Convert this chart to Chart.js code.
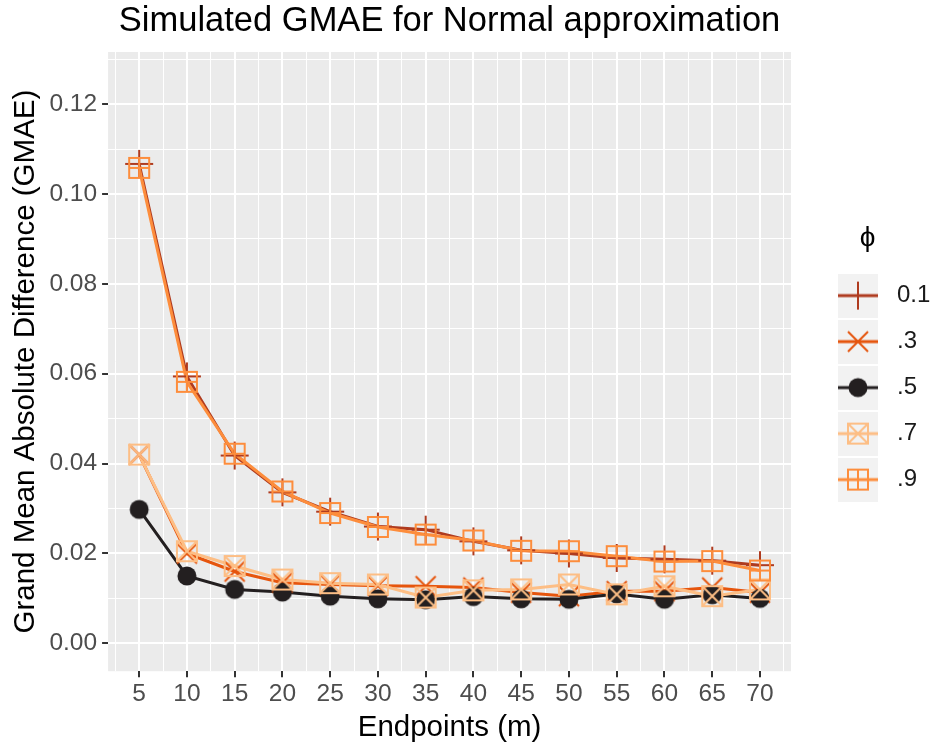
<!DOCTYPE html>
<html>
<head>
<meta charset="utf-8">
<script src="https://cdn.jsdelivr.net/npm/chart.js@4.4.1/dist/chart.umd.min.js"></script>
<style>
  html, body { margin: 0; padding: 0; background: #fff; }
</style>
</head>
<body>
<canvas id="chart" width="930" height="746"></canvas>
<script>
// data
const endpoints = [5, 10, 15, 20, 25, 30, 35, 40, 45, 50, 55, 60, 65, 70];
const phiLabels = ["0.1", ".3", ".5", ".7", ".9"];
const gmae01 = [0.1067, 0.0594, 0.0418, 0.0336, 0.0293, 0.0260, 0.0253, 0.0227, 0.0207, 0.0200, 0.0190, 0.0187, 0.0184, 0.0174];
const gmae03 = [0.0420, 0.0200, 0.0160, 0.0135, 0.0131, 0.0128, 0.0127, 0.0124, 0.0113, 0.0105, 0.0116, 0.0116, 0.0124, 0.0113];
const gmae05 = [0.0298, 0.0150, 0.0120, 0.0114, 0.0105, 0.0099, 0.0097, 0.0104, 0.0099, 0.0098, 0.0110, 0.0098, 0.0108, 0.0100];
const gmae07 = [0.0420, 0.0205, 0.0172, 0.0142, 0.0134, 0.0131, 0.0102, 0.0118, 0.0120, 0.0131, 0.0109, 0.0127, 0.0105, 0.0120];
const gmae09 = [0.1058, 0.0582, 0.0422, 0.0338, 0.0290, 0.0259, 0.0242, 0.0229, 0.0206, 0.0205, 0.0194, 0.0182, 0.0183, 0.0162];
const xBreaks = [2.5, 5, 7.5, 10, 12.5, 15, 17.5, 20, 22.5, 25, 27.5, 30, 32.5, 35, 37.5, 40, 42.5, 45, 47.5, 50, 52.5, 55, 57.5, 60, 62.5, 65, 67.5, 70, 72.5];
const yBreaks = [0, 0.01, 0.02, 0.03, 0.04, 0.05, 0.06, 0.07, 0.08, 0.09, 0.10, 0.11, 0.12, 0.13];

const series = [gmae01, gmae03, gmae05, gmae07, gmae09];
const colors = ["#AF3B1F", "#E6550D", "#231F20", "#FDBE85", "#FD8D3C"];
const shapes = ["plus", "cross", "circle", "squareX", "squarePlus"];

function drawShape(ctx, shape, color, cx, cy) {
  ctx.strokeStyle = color;
  ctx.fillStyle = color;
  ctx.lineWidth = 2;
  ctx.beginPath();
  if (shape === "plus") {
    ctx.moveTo(cx - 14, cy); ctx.lineTo(cx + 14, cy);
    ctx.moveTo(cx, cy - 14); ctx.lineTo(cx, cy + 14);
    ctx.stroke();
  } else if (shape === "cross") {
    ctx.moveTo(cx - 10, cy - 10); ctx.lineTo(cx + 10, cy + 10);
    ctx.moveTo(cx + 10, cy - 10); ctx.lineTo(cx - 10, cy + 10);
    ctx.stroke();
  } else if (shape === "circle") {
    ctx.arc(cx, cy, 9.5, 0, Math.PI * 2);
    ctx.fill();
  } else {
    ctx.rect(cx - 10, cy - 10, 20, 20);
    if (shape === "squareX") {
      ctx.moveTo(cx - 10, cy - 10); ctx.lineTo(cx + 10, cy + 10);
      ctx.moveTo(cx + 10, cy - 10); ctx.lineTo(cx - 10, cy + 10);
    } else {
      ctx.moveTo(cx - 10, cy); ctx.lineTo(cx + 10, cy);
      ctx.moveTo(cx, cy - 10); ctx.lineTo(cx, cy + 10);
    }
    ctx.stroke();
  }
}

function markerImage(shape, color) {
  const c = document.createElement("canvas");
  c.width = 32; c.height = 32;
  drawShape(c.getContext("2d"), shape, color, 16, 16);
  return c;
}

// legend key: transparent margin left (25) and right (7) around a 40x44 grey key
function legendKey(shape, color) {
  const c = document.createElement("canvas");
  c.width = 72; c.height = 44;
  const ctx = c.getContext("2d");
  ctx.fillStyle = "#F2F2F2";
  ctx.fillRect(25, 0, 40, 44);
  ctx.strokeStyle = color;
  ctx.lineWidth = 3;
  ctx.beginPath();
  ctx.moveTo(25, 22); ctx.lineTo(65, 22);
  ctx.stroke();
  drawShape(ctx, shape, color, 45, 22);
  return c;
}

// lines first, points on top (like geom_line + geom_point)
const lineSets = series.map((vals, i) => ({
  label: phiLabels[i],
  data: endpoints.map((x, j) => ({ x: x, y: vals[j] })),
  borderColor: colors[i],
  borderWidth: 3,
  pointRadius: 0,
  tension: 0,
  order: 9 - i
}));
const pointSets = series.map((vals, i) => ({
  label: phiLabels[i] + " pts",
  data: endpoints.map((x, j) => ({ x: x, y: vals[j] })),
  showLine: false,
  pointStyle: markerImage(shapes[i], colors[i]),
  pointRadius: 10,
  order: 4 - i
}));

const panelBg = {
  id: "panelBg",
  beforeDraw(chart) {
    const { ctx, chartArea: a } = chart;
    ctx.save();
    ctx.fillStyle = "#EBEBEB";
    ctx.fillRect(a.left, a.top, a.right - a.left, a.bottom - a.top);
    ctx.restore();
  }
};

Chart.defaults.font.family = "'Liberation Sans', Arial, sans-serif";

const isMajorX = v => v % 5 === 0;
const isMajorY = v => Math.round(v * 100) % 2 === 0;

new Chart(document.getElementById("chart").getContext("2d"), {
  type: "line",
  data: { datasets: lineSets.concat(pointSets) },
  plugins: [panelBg],
  options: {
    responsive: false,
    animation: false,
    layout: { padding: { left: 3, right: 0, top: 0, bottom: 0 } },
    plugins: {
      tooltip: { enabled: false },
      title: {
        display: true,
        text: "Simulated GMAE for Normal approximation",
        color: "#000",
        fullSize: false,
        font: { size: 34.5, weight: "normal" },
        padding: { top: 1, bottom: 9.6 }
      },
      legend: {
        position: "right",
        fullSize: false,
        maxWidth: 139,
        title: {
          display: true,
          text: "\u2002\u03D5",
          color: "#000",
          font: { size: 28 },
          padding: { top: 15, bottom: 3.4 }
        },
        labels: {
          usePointStyle: true,
          pointStyleWidth: 72,
          color: "#1A1A1A",
          font: { size: 24 },
          padding: 22,
          generateLabels: () => phiLabels.map((t, i) => ({
            text: t,
            pointStyle: legendKey(shapes[i], colors[i]),
            fontColor: "#1A1A1A",
            lineWidth: 0,
            datasetIndex: i
          }))
        }
      }
    },
    scales: {
      x: {
        type: "linear",
        min: 1.75,
        max: 73.25,
        afterBuildTicks: axis => { axis.ticks = xBreaks.map(v => ({ value: v })); },
        border: { display: false },
        grid: {
          color: "#FFFFFF",
          lineWidth: ctx => isMajorX(ctx.tick.value) ? 2 : 1,
          tickColor: ctx => isMajorX(ctx.tick.value) ? "#333333" : "rgba(0,0,0,0)",
          tickWidth: 2,
          tickLength: 6
        },
        ticks: {
          autoSkip: false,
          maxRotation: 0,
          color: "#4D4D4D",
          font: { size: 24.5 },
          padding: 2,
          callback: v => isMajorX(v) ? String(v) : ""
        },
        title: {
          display: true,
          text: "Endpoints (m)",
          color: "#000",
          font: { size: 29.5 },
          padding: { top: 0, bottom: 0 }
        }
      },
      y: {
        min: -0.0062,
        max: 0.1316,
        afterBuildTicks: axis => { axis.ticks = yBreaks.map(v => ({ value: v })); },
        border: { display: false },
        grid: {
          color: "#FFFFFF",
          lineWidth: ctx => isMajorY(ctx.tick.value) ? 2 : 1,
          tickColor: ctx => isMajorY(ctx.tick.value) ? "#333333" : "rgba(0,0,0,0)",
          tickWidth: 2,
          tickLength: 6
        },
        ticks: {
          autoSkip: false,
          color: "#4D4D4D",
          font: { size: 24.5 },
          padding: 5,
          callback: v => isMajorY(v) ? v.toFixed(2) : ""
        },
        title: {
          display: true,
          text: "Grand Mean Absolute Difference (GMAE)",
          color: "#000",
          font: { size: 29.5 },
          padding: { top: 5, bottom: 1 }
        }
      }
    }
  }
});
</script>
</body>
</html>
